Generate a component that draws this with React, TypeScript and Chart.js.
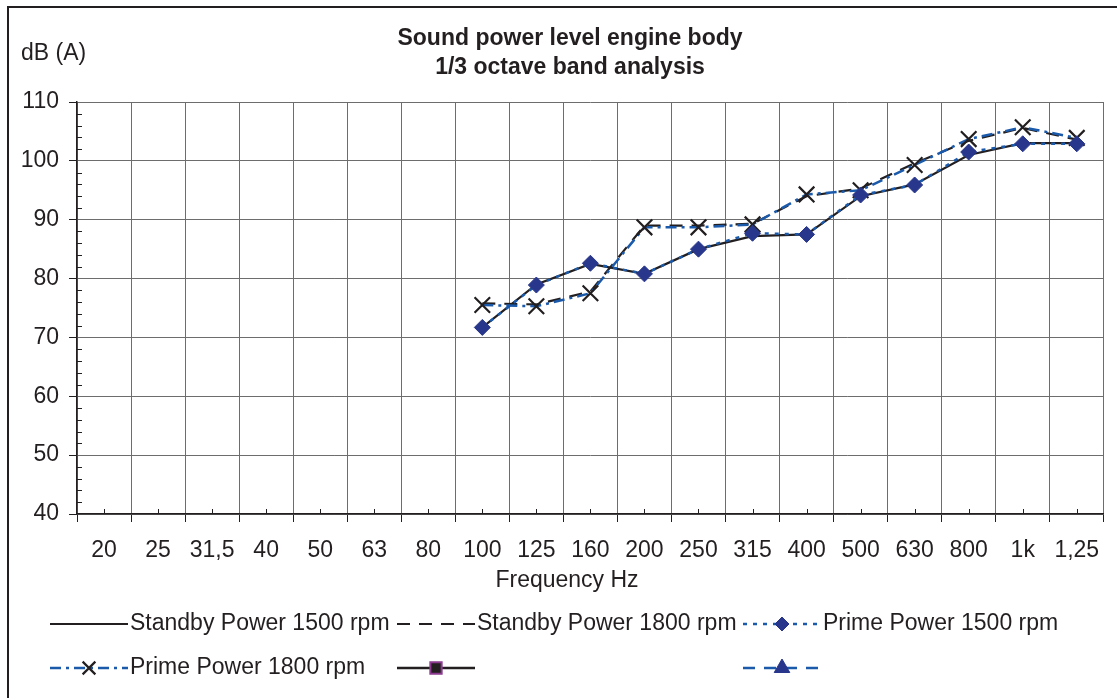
import React, { useEffect, useRef } from 'react';
import { Chart, registerables } from 'chart.js';
import { drawPoint } from 'chart.js/helpers';

Chart.register(...registerables);

const FONT = '"Liberation Sans", Arial, Helvetica, sans-serif';
const FS = 23;
const INK = '#231f20';
const BLUE = '#1b5aab';
const NAVY = '#28378c';
const PURPLE = '#8b3a8f';

const categories = ['20', '25', '31,5', '40', '50', '63', '80', '100', '125', '160', '200', '250', '315', '400', '500', '630', '800', '1k', '1,25'];

const standby1500: (number | null)[] = [null, null, null, null, null, null, null, 71.7, 79.0, 82.5, 80.8, 85.0, 87.2, 87.5, 94.0, 96.0, 101.0, 103.0, 103.0];
const standby1800: (number | null)[] = [null, null, null, null, null, null, null, 75.8, 75.6, 77.8, 89.0, 89.0, 89.3, 94.0, 95.3, 99.6, 103.4, 105.6, 103.6];
const prime1500: (number | null)[] = [null, null, null, null, null, null, null, 71.7, 78.9, 82.6, 80.8, 85.0, 87.7, 87.5, 94.2, 95.9, 101.5, 102.9, 102.9];
const prime1800: (number | null)[] = [null, null, null, null, null, null, null, 75.5, 75.3, 77.5, 88.7, 88.7, 89.2, 94.3, 95.0, 99.3, 103.7, 105.7, 103.9];
const emptySeriesA: (number | null)[] = [];
const emptySeriesB: (number | null)[] = [];

const seriesNames = ['Standby Power 1500 rpm', 'Standby Power 1800 rpm', 'Prime Power 1500 rpm', 'Prime Power 1800 rpm', '', ''];

const yMin = 40;
const yMax = 110;
const yStep = 10;
const yMinorStep = 2;

const titleLines = ['Sound power level engine body', '1/3 octave band analysis'];
const yAxisTitle = 'dB (A)';
const xAxisTitle = 'Frequency Hz';

const legendCols = [50, 397, 743];
const legendRows = [624, 668];

const decorPlugin = {
  id: 'decor',
  beforeDraw(chart: any) {
    const ctx = chart.ctx;
    ctx.save();
    ctx.fillStyle = '#ffffff';
    ctx.fillRect(0, 0, chart.width, chart.height);
    ctx.strokeStyle = INK;
    ctx.lineWidth = 2;
    ctx.beginPath();
    ctx.moveTo(8, chart.height + 5);
    ctx.lineTo(8, 7);
    ctx.lineTo(chart.width + 5, 7);
    ctx.stroke();
    ctx.restore();
  },
  beforeDatasetsDraw(chart: any) {
    const ctx = chart.ctx;
    const xs = chart.scales.x;
    const ys = chart.scales.y;
    const area = chart.chartArea;
    ctx.save();
    ctx.strokeStyle = INK;
    ctx.lineWidth = 1;
    ctx.beginPath();
    for (let v = yMin + yMinorStep; v < yMax; v += yMinorStep) {
      if (v % yStep === 0) continue;
      const y = Math.round(ys.getPixelForValue(v)) + 0.5;
      ctx.moveTo(area.left, y);
      ctx.lineTo(area.left + 5, y);
    }
    for (let i = 0; i < categories.length; i++) {
      const x = Math.round(xs.getPixelForValue(i)) + 0.5;
      ctx.moveTo(x, area.bottom);
      ctx.lineTo(x, area.bottom - 5);
    }
    ctx.stroke();
    ctx.restore();
  },
  afterDraw(chart: any) {
    const ctx = chart.ctx;
    ctx.save();
    ctx.fillStyle = INK;
    ctx.textBaseline = 'middle';
    ctx.textAlign = 'center';
    ctx.font = `bold ${FS}px ${FONT}`;
    ctx.fillText(titleLines[0], 570, 39);
    ctx.fillText(titleLines[1], 570, 68);
    ctx.font = `${FS}px ${FONT}`;
    ctx.textAlign = 'left';
    ctx.fillText(yAxisTitle, 21, 54);
    ctx.textAlign = 'center';
    ctx.fillText(xAxisTitle, 567, 581);

    // legend
    const ds = chart.data.datasets;
    seriesNames.forEach((name, i) => {
      const d = ds[i];
      const col = legendCols[i % 3];
      const row = legendRows[Math.floor(i / 3)];
      const x0 = col;
      const x1 = col + 78;
      ctx.save();
      ctx.strokeStyle = d.borderColor;
      ctx.lineWidth = d.borderWidth;
      ctx.setLineDash(d.borderDash || []);
      ctx.beginPath();
      ctx.moveTo(x0, row);
      ctx.lineTo(x1, row);
      ctx.stroke();
      ctx.setLineDash([]);
      if (d.pointRadius > 0) {
        ctx.fillStyle = d.pointBackgroundColor;
        ctx.strokeStyle = d.pointBorderColor;
        ctx.lineWidth = d.pointBorderWidth;
        const r = d.legendRadius || d.pointRadius;
        drawPoint(ctx, { pointStyle: d.pointStyle, radius: r, rotation: 0, borderWidth: d.pointBorderWidth }, (x0 + x1) / 2, row);
      }
      ctx.restore();
      if (name) {
        ctx.fillStyle = INK;
        ctx.font = `${FS}px ${FONT}`;
        ctx.textAlign = 'left';
        ctx.fillText(name, col + 80, row);
      }
    });
    ctx.restore();
  },
};

export default function App() {
  const canvasRef = useRef<HTMLCanvasElement | null>(null);

  useEffect(() => {
    if (!canvasRef.current) return;
    const chart = new Chart(canvasRef.current, {
      type: 'line',
      data: {
        labels: categories,
        datasets: [
          {
            label: seriesNames[0],
            data: standby1500,
            borderColor: INK,
            borderWidth: 2.2,
            borderDash: [],
            pointRadius: 0,
            pointStyle: 'circle',
            pointBackgroundColor: INK,
            pointBorderColor: INK,
            pointBorderWidth: 1,
            order: 2,
          },
          {
            label: seriesNames[1],
            data: standby1800,
            borderColor: INK,
            borderWidth: 2.2,
            borderDash: [13, 9],
            pointRadius: 0,
            pointStyle: 'circle',
            pointBackgroundColor: INK,
            pointBorderColor: INK,
            pointBorderWidth: 1,
            order: 3,
          },
          {
            label: seriesNames[2],
            data: prime1500,
            borderColor: BLUE,
            borderWidth: 2.5,
            borderDash: [4, 6],
            pointRadius: 8,
            legendRadius: 7,
            pointStyle: 'rectRot',
            pointBackgroundColor: NAVY,
            pointBorderColor: NAVY,
            pointBorderWidth: 1,
            order: 0,
          },
          {
            label: seriesNames[3],
            data: prime1800,
            borderColor: BLUE,
            borderWidth: 2.5,
            borderDash: [11, 5, 3, 5],
            pointRadius: 11,
            legendRadius: 9,
            pointStyle: 'crossRot',
            pointBackgroundColor: INK,
            pointBorderColor: INK,
            pointBorderWidth: 2.2,
            order: 1,
          },
          {
            label: seriesNames[4],
            data: emptySeriesA,
            borderColor: INK,
            borderWidth: 2.5,
            borderDash: [],
            pointRadius: 8,
            pointStyle: 'rect',
            pointBackgroundColor: INK,
            pointBorderColor: PURPLE,
            pointBorderWidth: 2,
            order: 4,
          },
          {
            label: seriesNames[5],
            data: emptySeriesB,
            borderColor: BLUE,
            borderWidth: 2.5,
            borderDash: [12, 9],
            pointRadius: 9,
            pointStyle: 'triangle',
            pointBackgroundColor: NAVY,
            pointBorderColor: NAVY,
            pointBorderWidth: 1,
            order: 5,
          },
        ] as any,
      },
      options: {
        animation: false,
        responsive: true,
        maintainAspectRatio: false,
        layout: { padding: { top: 102, right: 11, left: 0, bottom: 0 } },
        plugins: {
          legend: { display: false },
          title: { display: false },
          tooltip: { enabled: false },
        },
        elements: { line: { tension: 0 } },
        scales: {
          x: {
            type: 'category',
            offset: true,
            grid: {
              offset: true,
              color: '#6d6d6d',
              lineWidth: 1,
              drawTicks: true,
              tickLength: 8,
              tickColor: INK,
            },
            border: { color: INK, width: 1.5 },
            ticks: {
              autoSkip: false,
              maxRotation: 0,
              minRotation: 0,
              color: INK,
              padding: 15,
              font: { family: FONT, size: FS },
            },
            afterFit: (s: any) => {
              s.height = 184;
            },
          },
          y: {
            min: yMin,
            max: yMax,
            grid: {
              color: '#6d6d6d',
              lineWidth: 1,
              drawTicks: true,
              tickLength: 8,
              tickColor: INK,
            },
            border: { color: INK, width: 1.5 },
            ticks: {
              stepSize: yStep,
              color: INK,
              padding: 10,
              font: { family: FONT, size: FS },
            },
            afterFit: (s: any) => {
              s.width = 77;
            },
          },
        },
      },
      plugins: [decorPlugin],
    });
    return () => chart.destroy();
  }, []);

  return (
    <div style={{ position: 'absolute', left: 0, top: 0, width: 1117, height: 698 }}>
      <canvas ref={canvasRef} />
    </div>
  );
}
